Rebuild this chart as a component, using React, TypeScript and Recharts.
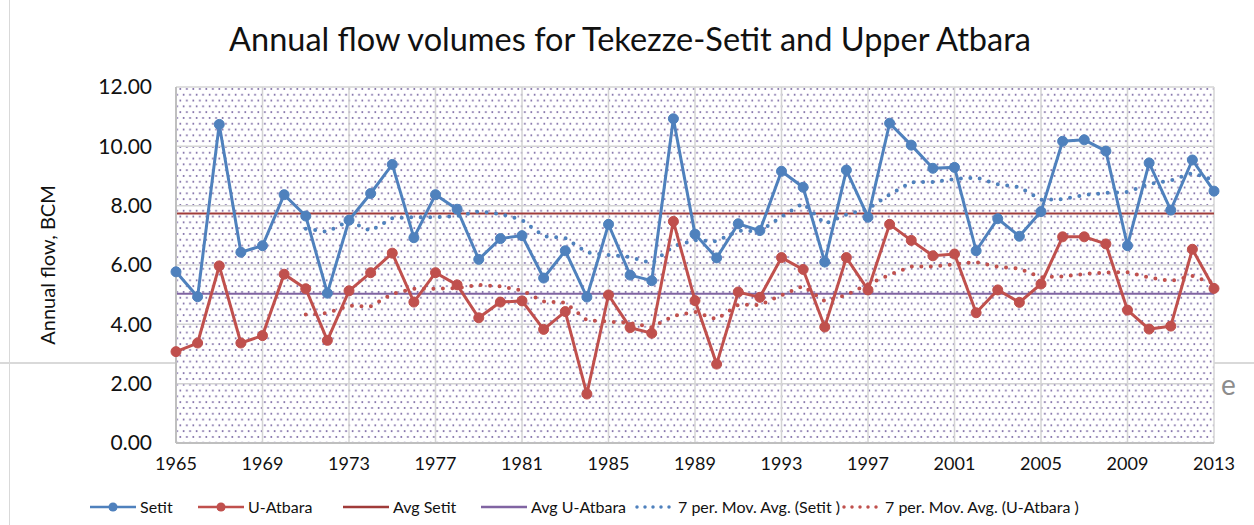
import React from 'react';
import { LineChart, Line, XAxis, YAxis, CartesianGrid, ReferenceLine } from 'recharts';

const years = Array.from({ length: 49 }, (_, i) => 1965 + i);

const setit = [
  5.77, 4.93, 10.74, 6.43, 6.65, 8.37, 7.65, 5.05, 7.51, 8.41,
  9.39, 6.92, 8.37, 7.88, 6.19, 6.89, 6.99, 5.56, 6.48, 4.92,
  7.37, 5.66, 5.47, 10.93, 7.04, 6.24, 7.39, 7.16, 9.16, 8.62,
  6.10, 9.20, 7.61, 10.78, 10.04, 9.26, 9.29, 6.48, 7.56, 6.97,
  7.80, 10.17, 10.22, 9.84, 6.65, 9.44, 7.85, 9.54, 8.49,
];

const uAtbara = [
  3.08, 3.37, 5.97, 3.37, 3.62, 5.69, 5.20, 3.46, 5.13, 5.74,
  6.40, 4.75, 5.74, 5.33, 4.22, 4.75, 4.79, 3.83, 4.43, 1.65,
  4.99, 3.89, 3.70, 7.47, 4.80, 2.66, 5.09, 4.91, 6.25, 5.85,
  3.91, 6.25, 5.16, 7.37, 6.83, 6.31, 6.37, 4.39, 5.16, 4.74,
  5.36, 6.95, 6.95, 6.71, 4.48, 3.84, 3.94, 6.53, 5.21,
];

// 7 per. moving averages (start in 1971)
const maSetit = [
  null, null, null, null, null, null, 7.22, 7.12, 7.49, 7.15,
  7.58, 7.61, 7.61, 7.65, 7.81, 7.72, 7.52, 6.97, 6.91, 6.42,
  6.34, 6.27, 6.06, 6.63, 6.84, 6.80, 7.16, 7.13, 7.63, 8.08,
  7.39, 7.70, 7.89, 8.38, 8.79, 8.80, 8.90, 8.95, 8.72, 8.63,
  8.20, 8.22, 8.36, 8.43, 8.46, 8.73, 8.85, 9.10, 8.86,
];

const maAtbara = [
  null, null, null, null, null, null, 4.33, 4.38, 4.63, 4.60,
  5.03, 5.20, 5.20, 5.22, 5.33, 5.28, 5.14, 4.77, 4.73, 4.14,
  4.09, 4.05, 3.90, 4.28, 4.42, 4.17, 4.66, 4.65, 4.98, 5.29,
  4.78, 4.99, 5.35, 5.67, 5.95, 5.95, 6.03, 6.10, 5.94, 5.88,
  5.59, 5.61, 5.70, 5.75, 5.76, 5.58, 5.46, 5.63, 5.38,
];

const avgSetit = 7.74;
const avgAtbara = 5.03;

const xTicks = [1965, 1969, 1973, 1977, 1981, 1985, 1989, 1993, 1997, 2001, 2005, 2009, 2013];
const yTicks = [0, 2, 4, 6, 8, 10, 12];

const chartData = years.map((year, i) => ({
  year,
  setit: setit[i],
  atbara: uAtbara[i],
  maSetit: maSetit[i],
  maAtbara: maAtbara[i],
}));

const BLUE = '#4F81BD';
const RED = '#C0504D';
const DARKRED = '#A03B39';
const PURPLE = '#8064A2';
const FONT = 'Lato, "Open Sans", sans-serif';

function LegendIcon({ color, kind }: { color: string; kind: 'marker' | 'line' | 'dots' }) {
  if (kind === 'dots') {
    return (
      <svg width={40} height={16}>
        <line x1={3} y1={8} x2={38} y2={8} stroke={color} strokeWidth={3.5} strokeDasharray="0 8" strokeLinecap="round" />
      </svg>
    );
  }
  return (
    <svg width={46} height={16}>
      <line x1={0} y1={8} x2={46} y2={8} stroke={color} strokeWidth={2.5} />
      {kind === 'marker' && <circle cx={23} cy={8} r={4.5} fill={color} />}
    </svg>
  );
}

const legendItems = [
  { label: 'Setit', color: BLUE, kind: 'marker' as const, left: 90 },
  { label: 'U-Atbara', color: RED, kind: 'marker' as const, left: 198 },
  { label: 'Avg Setit', color: DARKRED, kind: 'line' as const, left: 343 },
  { label: 'Avg U-Atbara', color: PURPLE, kind: 'line' as const, left: 481 },
  { label: '7 per. Mov. Avg. (Setit )', color: BLUE, kind: 'dots' as const, left: 634 },
  { label: '7 per. Mov. Avg. (U-Atbara )', color: RED, kind: 'dots' as const, left: 841 },
];

export default function App() {
  return (
    <div style={{ position: 'absolute', left: 0, top: 0, width: 1254, height: 525, background: '#fff', overflow: 'hidden', fontFamily: FONT }}>
      {/* stray lines from the screenshot */}
      <div style={{ position: 'absolute', left: 9, top: 0, width: 1, height: 525, background: '#d9d9d9' }} />
      <div style={{ position: 'absolute', left: 0, top: 362, width: 1254, height: 2, background: '#d9d9d9' }} />
      <div style={{ position: 'absolute', left: 1221, top: 370, fontSize: 28, color: '#8c8c8c', lineHeight: 1 }}>e</div>

      <div style={{ position: 'absolute', left: 0, top: 0 }}>
        <LineChart width={1254} height={525} data={chartData} margin={{ top: 87, right: 40, left: 76, bottom: 52 }}>
          <defs>
            <pattern id="dots" width={6.5} height={11.6} patternUnits="userSpaceOnUse">
              <rect width={6.5} height={11.6} fill="#ffffff" />
              <circle cx={1.6} cy={2} r={0.95} fill="#7663a0" />
              <circle cx={4.85} cy={7.8} r={0.95} fill="#7663a0" />
            </pattern>
          </defs>
          <CartesianGrid stroke="#d4d4d4" strokeWidth={1.5} fill="url(#dots)" fillOpacity={1} />
          <XAxis
            dataKey="year"
            type="number"
            domain={[1965, 2013]}
            ticks={xTicks}
            interval={0}
            tickSize={0}
            tickMargin={14}
            height={30}
            axisLine={{ stroke: '#bfbfbf', strokeWidth: 2 }}
            tick={{ fill: '#111', fontSize: 18, fontFamily: FONT }}
          />
          <YAxis
            domain={[0, 12]}
            ticks={yTicks}
            width={100}
            tickSize={0}
            tickMargin={24}
            axisLine={{ stroke: '#bfbfbf', strokeWidth: 2 }}
            tickFormatter={(v: number) => v.toFixed(2)}
            tick={{ fill: '#111', fontSize: 21, fontFamily: FONT }}
          />
          <ReferenceLine y={avgSetit} stroke={DARKRED} strokeWidth={2} />
          <ReferenceLine y={avgAtbara} stroke={PURPLE} strokeWidth={2} />
          <Line
            dataKey="maSetit"
            stroke={BLUE}
            strokeWidth={4}
            strokeDasharray="0 9.5"
            strokeLinecap="round"
            dot={false}
            connectNulls={false}
            isAnimationActive={false}
          />
          <Line
            dataKey="maAtbara"
            stroke={RED}
            strokeWidth={4}
            strokeDasharray="0 9.5"
            strokeLinecap="round"
            dot={false}
            connectNulls={false}
            isAnimationActive={false}
          />
          <Line
            dataKey="setit"
            stroke={BLUE}
            strokeWidth={3}
            dot={{ r: 5, fill: BLUE, stroke: BLUE, strokeWidth: 1 }}
            isAnimationActive={false}
          />
          <Line
            dataKey="atbara"
            stroke={RED}
            strokeWidth={3}
            dot={{ r: 5, fill: RED, stroke: RED, strokeWidth: 1 }}
            isAnimationActive={false}
          />
        </LineChart>
      </div>

      {/* 標題 */}
      <div style={{ position: 'absolute', left: 0, width: 1260, top: 23, textAlign: 'center', fontSize: 32.5, color: '#111', lineHeight: 1 }}>
        Annual flow volumes for Tekezze-Setit and Upper Atbara
      </div>

      {/* Y 軸標題 */}
      <div
        style={{
          position: 'absolute',
          left: 47,
          top: 265,
          transform: 'translate(-50%, -50%) rotate(-90deg)',
          whiteSpace: 'nowrap',
          fontSize: 20,
          color: '#111',
        }}
      >
        Annual flow, BCM
      </div>

      {/* 圖例 */}
      {legendItems.map(item => (
        <div
          key={item.label}
          style={{ position: 'absolute', left: item.left, top: 497, display: 'flex', alignItems: 'center', gap: 4, fontSize: 16, color: '#111', whiteSpace: 'nowrap' }}
        >
          <LegendIcon color={item.color} kind={item.kind} />
          <span>{item.label}</span>
        </div>
      ))}
    </div>
  );
}
